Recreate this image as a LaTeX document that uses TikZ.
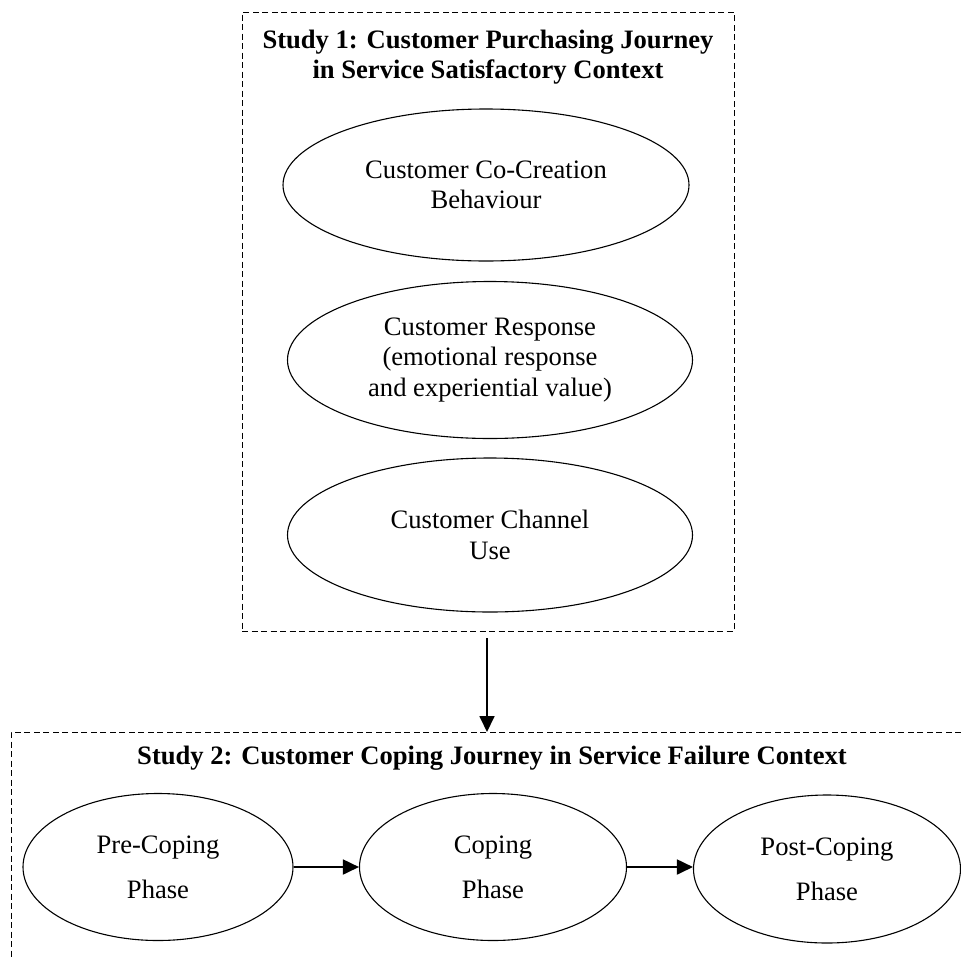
\documentclass[tikz,border=0pt]{standalone}
\usepackage{fontspec}
\setmainfont{Liberation Serif}
\usetikzlibrary{shapes.geometric,arrows.meta}
\tikzset{
  oval/.style={ellipse, draw, line width=1.1pt, inner sep=0pt, align=center,
     font=\fontsize{26.6}{30.5}\selectfont},
  ovalwide/.style={oval, font=\fontsize{26.6}{45}\selectfont},
  dashbox/.style={draw, line width=1pt, dash pattern=on 6pt off 3.5pt},
  titletext/.style={align=center, inner sep=0pt, font=\fontsize{26.6}{30}\selectfont\bfseries},
  arr/.style={line width=1.8pt, -{Triangle[length=16pt,width=15pt]}}
}
\begin{document}
\begin{tikzpicture}[x=1pt,y=-1pt]
\useasboundingbox (0,0) rectangle (961,959);
% Study 1 box
\node[dashbox, minimum width=492pt, minimum height=619pt, inner sep=0pt] (box1) at (488,321.5) {};
\node[titletext] (t1) at (488,57) {Study 1: Customer Purchasing Journey\\in Service Satisfactory Context};
\node[oval, minimum width=406pt, minimum height=152pt] (e1) at (486,185) {Customer Co-Creation\\Behaviour};
\node[oval, minimum width=405pt, minimum height=157pt] (e2) at (490,360) {Customer Response\\(emotional response\\and experiential value)};
\node[oval, minimum width=405pt, minimum height=154pt] (e3) at (490,535) {Customer Channel\\Use};
% Study 2 box (open to the right and bottom)
\coordinate (b2tl) at (11,732);
\coordinate (b2tr) at (961,732);
\coordinate (b2bl) at (11,959);
\coordinate (b2top) at (487,732);
\coordinate (a1start) at (487,638);
\draw[dashbox] (b2tr) -- (b2tl) -- (b2bl);
\node[titletext] (t2) at (492,758) {Study 2: Customer Coping Journey in Service Failure Context};
\node[ovalwide, minimum width=270pt, minimum height=147pt] (pa) at (158,867) {Pre-Coping\\Phase};
\node[ovalwide, minimum width=267pt, minimum height=147pt] (pb) at (493,867) {Coping\\Phase};
\node[ovalwide, minimum width=267pt, minimum height=148pt] (pc) at (827,869) {Post-Coping\\Phase};
% connectors
\draw[arr] (a1start) -- (b2top);
\draw[arr] (pa.east) -- (pb.west);
\draw[arr] (pb.east) -- (pb.east -| pc.west);
\end{tikzpicture}
\end{document}
